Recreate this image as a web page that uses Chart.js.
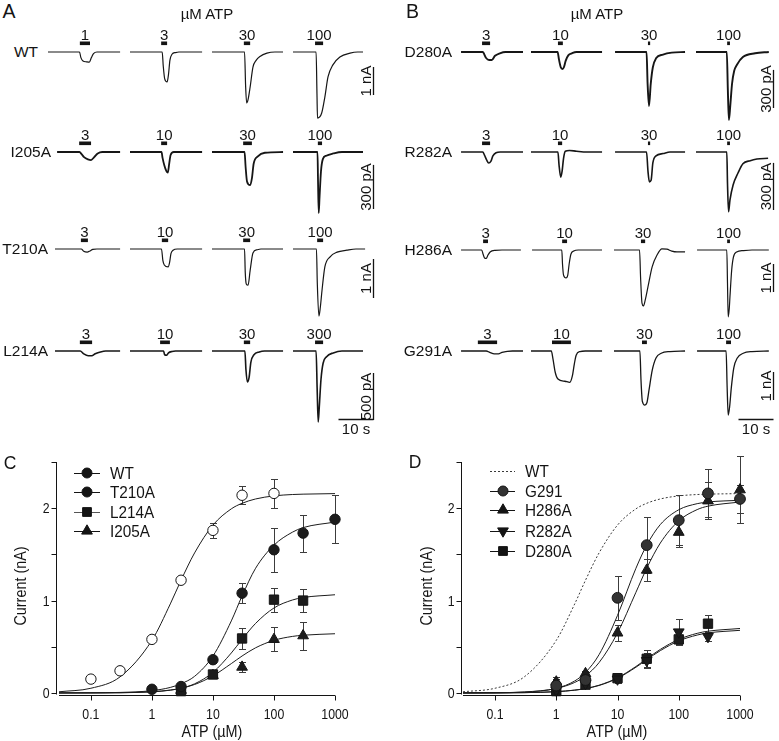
<!DOCTYPE html>
<html><head><meta charset="utf-8">
<script src="https://cdn.jsdelivr.net/npm/chart.js@4.4.1/dist/chart.umd.min.js"></script>
<style>
html,body{margin:0;padding:0;background:#fff;}
#wrap{position:relative;width:779px;height:741px;overflow:hidden;background:#fff;}
#wrap canvas{position:absolute;}
.t{position:absolute;font-family:"Liberation Sans",Arial,Helvetica,sans-serif;color:#141414;white-space:nowrap;line-height:1;}
</style></head><body><div id="wrap"></div>
<script>
// ================= DATA =================
// Panels A/B: current traces, [time (s), current (nA)]
const rowNamesA = ["WT","I205A","T210A","L214A"];
const rowNamesB = ["D280A","R282A","H286A","G291A"];
const concA = [["1","3","30","100"],["3","10","30","100"],["3","10","30","100"],["3","10","30","300"]];
const concB = [["3","10","30","100"],["3","10","30","100"],["3","10","30","100"],["3","10","30","100"]];

const traceWT = [
  [[0,0],[9.0,0],[9.4,-0.2],[10.0,-0.32],[11.0,-0.35],[11.8,-0.36],[12.4,-0.2],[13.0,-0.06],[14,0],[20.6,0]],
  [[0,0],[9.2,0],[9.5,-0.5],[9.9,-0.95],[10.6,-1.07],[11.0,-0.8],[11.4,-0.3],[12.0,-0.08],[13,-0.02],[14,0],[20.6,0]],
  [[0,0],[9.3,0],[9.6,-1.2],[9.9,-1.82],[10.3,-1.7],[10.9,-1.25],[11.7,-0.54],[12.6,-0.3],[13.7,-0.16],[15.7,-0.04],[18,0],[20.3,0]],
  [[0,0],[6.6,0],[6.85,-1.5],[7.0,-2.36],[8.2,-2.18],[9.1,-1.61],[10.0,-0.89],[11.4,-0.46],[13.4,-0.18],[16.3,-0.04],[18.5,0],[20.0,0]]
];
const traceI205A = [
  [[2.6,0],[9.0,0],[9.6,-0.015],[10.3,-0.035],[11.4,-0.05],[12.3,-0.055],[13.2,-0.035],[14.2,-0.01],[15.5,0],[20.6,0]],
  [[0,0],[9.0,0],[9.3,-0.04],[9.8,-0.09],[10.4,-0.13],[10.8,-0.14],[11.2,-0.08],[11.6,-0.02],[12.5,0],[20.6,0]],
  [[0,0],[9.3,0],[9.6,-0.1],[10.0,-0.2],[10.9,-0.225],[11.4,-0.18],[11.9,-0.08],[13.1,-0.03],[15.1,-0.005],[20.3,0]],
  [[0,0],[7.0,0],[7.15,-0.2],[7.35,-0.415],[7.6,-0.3],[8.0,-0.13],[8.5,-0.05],[9.5,-0.025],[11.5,-0.01],[14,0],[20.0,0]]
];
const traceT210A = [
  [[2,0],[9.5,0],[10.2,-0.06],[11.2,-0.08],[12.0,-0.05],[12.8,-0.01],[14,0],[20.6,0]],
  [[0,0],[9.0,0],[9.4,-0.3],[9.8,-0.41],[10.9,-0.46],[11.3,-0.35],[11.7,-0.12],[12.3,-0.03],[13.5,0],[20.6,0]],
  [[0,0],[9.3,0],[9.5,-0.6],[9.8,-0.9],[10.3,-0.93],[10.9,-0.55],[11.7,-0.1],[12.9,-0.02],[14,0],[20.3,0]],
  [[0,0],[6.7,0],[6.95,-0.9],[7.4,-1.72],[7.8,-1.5],[8.3,-1.05],[9.1,-0.46],[10.6,-0.2],[12.6,-0.08],[15.4,-0.03],[18,0],[20.6,0]]
];
const traceL214A = [
  [[2,0],[9.2,0],[10.2,-0.03],[11.5,-0.05],[12.5,-0.05],[13.5,-0.03],[15,-0.01],[16.5,0],[20.6,0]],
  [[0,0],[9.6,0],[9.9,-0.04],[10.5,-0.045],[11.0,-0.02],[12,-0.005],[13,0],[20.6,0]],
  [[0,0],[9.4,0],[9.7,-0.2],[10.1,-0.33],[10.6,-0.28],[11.1,-0.12],[12,-0.04],[13.5,-0.01],[15,0],[20.3,0]],
  [[0,0],[6.6,0],[6.9,-0.4],[7.2,-0.755],[7.5,-0.6],[8.0,-0.3],[8.6,-0.13],[9.6,-0.06],[11.5,-0.02],[14,0],[20.0,0]]
];
const traceD280A = [
  [[0.3,0],[6.5,0],[7.4,-0.045],[8.3,-0.063],[9.1,-0.063],[10.0,-0.03],[11.4,-0.01],[13,0],[18.0,0]],
  [[0,0],[7.6,0],[8.0,-0.06],[8.5,-0.12],[9.0,-0.134],[9.4,-0.12],[9.9,-0.07],[10.7,-0.025],[11.7,-0.01],[13,0],[20.3,0]],
  [[0.3,0],[9.3,0],[9.6,-0.25],[10.0,-0.425],[10.5,-0.25],[11.1,-0.12],[12,-0.05],[14,-0.02],[16.5,-0.005],[20.3,0]],
  [[0,0],[8.8,0],[9.1,-0.3],[9.4,-0.535],[9.8,-0.42],[10.3,-0.25],[10.9,-0.15],[11.7,-0.1],[13.4,-0.04],[16.9,-0.01],[20.8,0]]
];
const traceR282A = [
  [[0.3,0],[6.5,0],[7.0,-0.02],[7.6,-0.05],[8.2,-0.07],[8.8,-0.06],[9.4,-0.025],[10.3,-0.005],[11.5,0],[18,0]],
  [[0,0],[7.7,0],[8.0,-0.08],[8.5,-0.16],[8.9,-0.12],[9.3,-0.04],[9.8,0.005],[11,0.01],[13,0.005],[16,0],[20.3,0]],
  [[0.3,0],[9.3,0],[9.7,-0.12],[10.1,-0.19],[10.6,-0.18],[11.1,-0.07],[12,-0.025],[14,-0.01],[16,0],[20.3,0]],
  [[0,0],[8.8,0],[9.0,-0.2],[9.3,-0.38],[9.7,-0.306],[10.6,-0.21],[12.0,-0.134],[13.4,-0.075],[15.5,-0.055],[17.4,-0.045],[20.6,-0.04]]
];
const traceH286A = [
  [[0.3,0],[6.2,0],[6.6,-0.15],[7.1,-0.3],[7.5,-0.3],[8.0,-0.18],[8.6,-0.07],[10,-0.01],[12,0],[17.4,0]],
  [[0.3,0],[8.8,0],[9.0,-0.5],[9.3,-0.9],[10.0,-1.0],[10.5,-0.9],[10.9,-0.5],[11.4,-0.15],[12.2,-0.04],[13.5,0],[20.3,0]],
  [[0,0],[7.3,0],[7.6,-1.0],[8.0,-1.9],[8.4,-2.0],[8.9,-1.8],[9.7,-1.32],[10.9,-0.6],[12.3,-0.18],[13.7,0.04],[15.1,0.03],[16.5,-0.04],[18,-0.07],[20.3,-0.07]],
  [[0.3,0],[8.8,0],[9.0,-1.2],[9.2,-2.39],[9.5,-2.1],[9.7,-1.68],[10.2,-0.71],[10.7,-0.25],[11.6,-0.07],[13.5,-0.02],[16,0],[20.8,0]]
];
const traceG291A = [
  [[0.3,0],[7.5,0],[8.5,-0.05],[9.8,-0.1],[11,-0.1],[12,-0.05],[13.5,-0.01],[15,0],[18,0]],
  [[0,0],[5.8,0],[6.3,-0.3],[6.9,-0.75],[7.7,-1.0],[9.7,-1.08],[11.1,-1.12],[11.8,-0.9],[12.4,-0.45],[12.9,-0.15],[14,-0.02],[15.5,0],[20.3,0]],
  [[0,0],[7.4,0],[7.7,-1.0],[8.1,-1.8],[8.8,-1.93],[9.4,-1.85],[10.0,-1.4],[10.9,-0.7],[12.0,-0.25],[13.5,-0.08],[16,-0.02],[20.3,0]],
  [[0.3,0],[8.6,0],[8.9,-1.3],[9.2,-2.29],[9.6,-2.0],[10.1,-1.3],[10.8,-0.6],[11.8,-0.25],[13.5,-0.08],[16,-0.02],[20.8,0]]
];
// ATP application windows [start s, end s]
const appWT    = [[9.1,12.0],[8.9,10.6],[9.1,10.9],[6.3,8.6]];
const appI205A = [[8.9,12.3],[8.9,10.6],[8.9,11.4],[7.1,8.3]];
const appT210A = [[9.4,11.4],[9.1,10.9],[8.9,10.9],[6.9,8.6]];
const appL214A = [[9.1,12.6],[8.6,11.4],[9.1,10.9],[6.3,8.6]];
const appD280A = [[6.3,8.6],[7.7,9.1],[9.7,10.3],[8.9,9.7]];
const appR282A = [[6.3,8.6],[7.7,8.9],[9.7,10.3],[8.9,9.7]];
const appH286A = [[6.6,8.0],[8.9,10.3],[7.7,8.9],[8.9,9.7]];
const appG291A = [[5.1,10.6],[6.0,11.4],[8.0,9.4],[8.6,10.0]];
// scale bars (nA) and their labels
const scaleValA = [1,0.3,1,0.5];   const scaleTextA = ["1 nA","300 pA","1 nA","500 pA"];
const scaleValB = [0.3,0.3,1,1];   const scaleTextB = ["300 pA","300 pA","1 nA","1 nA"];
const timeBarSec = 10;             const timeBarText = "10 s";

// Panels C/D: dose-response, ATP (µM) vs current (nA)
const fitX = [0.03,0.1,0.3,1,2,3,5,10,20,30,50,100,200,300,1000];
const wtDose = [0.1,0.3,1,3,10,30,100];
const wtMean = [0.15,0.24,0.58,1.22,1.76,2.14,2.16];
const wtErr  = [0,0,0,0.03,0.08,0.1,0.16];
const wtFit  = [0.013,0.051,0.174,0.570,0.964,1.220,1.516,1.817,1.993,2.053,2.100,2.133,2.148,2.152,2.158];
const t210Dose = [1,3,10,30,100,300,1000];
const t210Mean = [0.04,0.07,0.36,1.08,1.55,1.73,1.88];
const t210Err  = [0.01,0.02,0.04,0.11,0.24,0.2,0.26];
const t210Fit  = [0.0005,0.002,0.006,0.025,0.06,0.1,0.18,0.40,0.78,1.05,1.35,1.60,1.74,1.79,1.85];
const l214Dose = [3,10,30,100,300];
const l214Mean = [0.02,0.2,0.59,1.01,1.0];
const l214Err  = [0.01,0.03,0.11,0.13,0.12];
const l214Fit  = [0.0001,0.0005,0.0023,0.012,0.030,0.052,0.099,0.223,0.433,0.58,0.753,0.92,1.006,1.033,1.063];
const i205Dose = [3,10,30,100,300];
const i205Mean = [0.03,0.19,0.28,0.58,0.62];
const i205Err  = [0.01,0.03,0.05,0.13,0.15];
const i205Fit  = [0.0002,0.0007,0.0029,0.0134,0.0315,0.0512,0.0916,0.185,0.318,0.40,0.489,0.570,0.612,0.625,0.641];
const g291Dose = [1,3,10,30,100,300,1000];
const g291Mean = [0.08,0.14,1.03,1.6,1.87,2.16,2.1];
const g291Err  = [0.07,0.04,0.24,0.3,0.27,0.26,0.15];
const g291Fit  = [0.0003,0.0019,0.009,0.050,0.130,0.222,0.415,0.84,1.350,1.6,1.823,1.983,2.049,2.067,2.086];
const h286Dose = [1,3,10,30,100,300,1000];
const h286Mean = [0.12,0.21,0.65,1.33,1.74,2.08,2.2];
const h286Err  = [0.05,0.03,0.09,0.12,0.16,0.2,0.36];
const h286Fit  = [0.0006,0.0026,0.0107,0.0488,0.114,0.185,0.329,0.65,1.090,1.35,1.623,1.863,1.985,2.022,2.067];
const r282Dose = [1,3,10,30,100,300];
const r282Mean = [0.03,0.1,0.15,0.35,0.66,0.61];
const r282Err  = [0.02,0.02,0.04,0.08,0.14,0.05];
const r282Fit  = [0.0002,0.001,0.0035,0.0142,0.0311,0.0487,0.0837,0.164,0.2866,0.37,0.4716,0.5798,0.6455,0.6685,0.698];
const d280Dose = [1,3,10,30,100,300];
const d280Mean = [0.02,0.09,0.16,0.37,0.58,0.75];
const d280Err  = [0.02,0.03,0.04,0.09,0.05,0.09];
const d280Fit  = [0.0002,0.001,0.0034,0.0138,0.0302,0.0473,0.0813,0.159,0.2785,0.36,0.458,0.5635,0.627,0.650,0.678];
const yTicks = [0,0.5,1,1.5,2,2.5];
const yTickLabels = [0,1,2];
const xTicks = [0.1,1,10,100,1000];

// ================= LAYOUT / DRAWING =================
const FONT = '"Liberation Sans", Arial, Helvetica, sans-serif';
const wrap = document.getElementById('wrap');
const INK = '#141414';
const PX_PER_S = 3.5;

function makeCanvas(left, top, w, h){
  const c = document.createElement('canvas');
  c.width = w; c.height = h;
  c.style.left = left+'px'; c.style.top = top+'px';
  c.style.width = w+'px'; c.style.height = h+'px';
  wrap.appendChild(c); return c;
}
function htmlText(text, x, y, size, align, sx){
  const d = document.createElement('div');
  d.className = 't'; d.textContent = text;
  d.style.left = x+'px'; d.style.top = y+'px'; d.style.fontSize = size+'px';
  const tx = align==='right' ? '-100%' : (align==='left' ? '0' : '-50%');
  d.style.transformOrigin = align==='right' ? 'right center' : (align==='left' ? 'left center' : 'center center');
  d.style.transform = 'translate('+tx+',-50%) scaleX('+(sx||1)+')';
  wrap.appendChild(d);
}
function sText(ctx, str, x, y, align, sx){
  ctx.save(); ctx.translate(x,y); ctx.scale(sx,1); ctx.textAlign = align; ctx.fillText(str,0,0); ctx.restore();
}

const tracePlugin = {
  id:'traceDeco',
  afterDraw(chart, args, o){
    const ctx = chart.ctx, x = chart.scales.x, y = chart.scales.y;
    const base = y.getPixelForValue(0);
    ctx.save();
    ctx.fillStyle = INK; ctx.strokeStyle = INK;
    const x1 = x.getPixelForValue(o.app[0]), x2 = x.getPixelForValue(o.app[1]);
    ctx.fillRect(x1, base-10.5, Math.max(2.2, x2-x1), 3.6);
    ctx.font = '15px '+FONT; ctx.textBaseline = 'alphabetic'; ctx.textAlign = 'center';
    ctx.fillText(o.conc, (x1+x2)/2, base-12.5);
    if (o.scaleVal){
      const bx = Math.round(chart.chartArea.right + o.barDx) + 0.5;
      const yb = base + o.barBottom;
      const len = y.getPixelForValue(-o.scaleVal) - y.getPixelForValue(0);
      ctx.lineWidth = 1.3;
      ctx.beginPath(); ctx.moveTo(bx, yb); ctx.lineTo(bx, yb-len); ctx.stroke();
      ctx.save(); ctx.translate(bx-3, yb-len/2); ctx.rotate(-Math.PI/2);
      ctx.textAlign = 'center'; ctx.fillText(o.scaleText, 0, 0); ctx.restore();
      if (o.timeVal){
        const tl = x.getPixelForValue(o.timeVal) - x.getPixelForValue(0);
        const ty = Math.round(base + o.timeY) + 0.5;
        ctx.beginPath(); ctx.moveTo(bx - tl, ty); ctx.lineTo(bx, ty); ctx.stroke();
        ctx.textAlign = 'center'; ctx.fillText(o.timeText, bx - tl/2, ty + 14);
      }
    }
    ctx.restore();
  }
};

function traceChart(x0, base, W, extraR, data, lw, ppn, deco){
  const padL = 10, above = 30, below = 100;
  const c = makeCanvas(x0-padL, base-above, W+padL+10+extraR, above+below);
  new Chart(c, {
    type:'scatter',
    data:{datasets:[{data:data.map(p=>({x:p[0], y:p[1]})), showLine:true, borderColor:'#161616',
      borderWidth:lw, pointRadius:0, cubicInterpolationMode:'monotone', clip:false}]},
    options:{responsive:false, animation:false, events:[], devicePixelRatio:1,
      layout:{padding:{left:padL, right:10+extraR, top:above-12, bottom:below-78}},
      plugins:{legend:{display:false}, tooltip:{enabled:false}, traceDeco:deco},
      scales:{x:{type:'linear', display:false, min:0, max:W/PX_PER_S},
              y:{type:'linear', display:false, min:-78/ppn, max:12/ppn}}},
    plugins:[tracePlugin]
  });
}

function tracePanel(P){
  P.rows.forEach((row, r)=>{
    htmlText(row.name, P.nameRight[r], P.base[r], 15.5, 'right');
    for (let k=0;k<4;k++){
      const last = k===3;
      const deco = {app:row.app[k], conc:row.conc[k]};
      if (last){
        Object.assign(deco, {scaleVal:P.scaleVal[r], scaleText:P.scaleText[r], barDx:P.barDx, barBottom:P.barBottom[r]});
        if (r===3) Object.assign(deco, {timeVal:timeBarSec, timeText:timeBarText, timeY:68});
      }
      traceChart(P.cols[k], P.base[r], P.width, last?16:0, row.trace[k], P.lw[r], P.ppn[r], deco);
    }
  });
}

tracePanel({
  cols:[48,130,212,293], width:72, base:[52,152,249,351], nameRight:[38,51,48,48],
  ppn:[28,147,39,94], lw:[1.2,1.8,1.2,1.6], barDx:8, barBottom:[43,57,49,69],
  scaleVal:scaleValA, scaleText:scaleTextA,
  rows:[
    {name:rowNamesA[0], trace:traceWT, app:appWT, conc:concA[0]},
    {name:rowNamesA[1], trace:traceI205A, app:appI205A, conc:concA[1]},
    {name:rowNamesA[2], trace:traceT210A, app:appT210A, conc:concA[2]},
    {name:rowNamesA[3], trace:traceL214A, app:appL214A, conc:concA[3]}
  ]
});
tracePanel({
  cols:[460,531,614,696], width:73, base:[52,152,250,351], nameRight:[452,452,452,452],
  ppn:[127,157,28,28], lw:[1.9,1.6,1.2,1.3], barDx:4, barBottom:[56,58,42,49],
  scaleVal:scaleValB, scaleText:scaleTextB,
  rows:[
    {name:rowNamesB[0], trace:traceD280A, app:appD280A, conc:concB[0]},
    {name:rowNamesB[1], trace:traceR282A, app:appR282A, conc:concB[1]},
    {name:rowNamesB[2], trace:traceH286A, app:appH286A, conc:concB[2]},
    {name:rowNamesB[3], trace:traceG291A, app:appG291A, conc:concB[3]}
  ]
});

// panel letters and titles
htmlText("A", 9, 11.5, 19.5, 'center');
htmlText("B", 412.5, 11.5, 19.5, 'center');
htmlText("µM ATP", 207, 12.5, 15, 'center');
htmlText("µM ATP", 597, 12.5, 15, 'center');
htmlText("C", 9.5, 461.5, 19, 'center', 0.92);
htmlText("D", 414.5, 460.5, 19, 'center', 0.92);

// ---------- dose-response ----------
function marker(ctx, style, x, y, r, fill){
  ctx.beginPath();
  if (style==='circle'){ ctx.arc(x,y,r,0,Math.PI*2); }
  else if (style==='rect'){ const s=Math.SQRT1_2*r; ctx.rect(x-s,y-s,2*s,2*s); }
  else { const rot = style==='triangleDown'?Math.PI:0; let a=rot;
    ctx.moveTo(x+Math.sin(a)*r, y-Math.cos(a)*r); a+=2*Math.PI/3;
    ctx.lineTo(x+Math.sin(a)*r, y-Math.cos(a)*r); a+=2*Math.PI/3;
    ctx.lineTo(x+Math.sin(a)*r, y-Math.cos(a)*r); ctx.closePath(); }
  ctx.fillStyle = fill; ctx.fill(); ctx.lineWidth=1; ctx.strokeStyle=INK; ctx.stroke();
}

const dosePlugin = {
  id:'doseDeco',
  beforeDatasetsDraw(chart, args, o){
    const ctx = chart.ctx, x = chart.scales.x, y = chart.scales.y;
    ctx.save(); ctx.strokeStyle = '#3c3c3c'; ctx.lineWidth = 1;
    o.errors.forEach(s=>{
      s.dose.forEach((d,i)=>{
        const e = s.err[i]; if (!e) return;
        const px = Math.round(x.getPixelForValue(d))+0.5;
        const y1 = Math.round(y.getPixelForValue(s.mean[i]+e))+0.5;
        const y2 = Math.round(y.getPixelForValue(Math.max(s.mean[i]-e, y.min)))+0.5;
        ctx.beginPath();
        ctx.moveTo(px,y1); ctx.lineTo(px,y2);
        ctx.moveTo(px-3.5,y1); ctx.lineTo(px+3.5,y1);
        ctx.moveTo(px-3.5,y2); ctx.lineTo(px+3.5,y2);
        ctx.stroke();
      });
    });
    ctx.restore();
  },
  afterDraw(chart, args, o){
    const ctx = chart.ctx, x = chart.scales.x, y = chart.scales.y, a = chart.chartArea;
    ctx.save(); ctx.strokeStyle = INK; ctx.fillStyle = INK; ctx.lineWidth = 1;
    const ax = a.left - o.gap + 0.5;
    const y0 = y.getPixelForValue(0);
    ctx.beginPath(); ctx.moveTo(ax, Math.round(y.getPixelForValue(2.5))); ctx.lineTo(ax, Math.round(y0)+1.5); ctx.stroke();
    const bx = Math.round(a.bottom)+0.5;
    ctx.beginPath(); ctx.moveTo(a.left, bx); ctx.lineTo(a.right, bx); ctx.stroke();
    ctx.beginPath();
    yTicks.forEach(v=>{ const py = Math.round(y.getPixelForValue(v))+0.5; ctx.moveTo(ax-5, py); ctx.lineTo(ax, py); });
    xTicks.forEach(v=>{ const px = Math.round(x.getPixelForValue(v))+0.5; ctx.moveTo(px, bx); ctx.lineTo(px, bx+5); });
    ctx.stroke();
    ctx.font = '14px '+FONT; ctx.textBaseline = 'alphabetic';
    yTickLabels.forEach(v=> sText(ctx, String(v), ax-7, y.getPixelForValue(v)+5, 'right', 0.88));
    xTicks.forEach(v=> sText(ctx, String(v), x.getPixelForValue(v), bx+23, 'center', 0.88));
    ctx.font = '16px '+FONT;
    sText(ctx, 'ATP (µM)', o.xTitle[0], o.xTitle[1], 'center', 0.9);
    ctx.save(); ctx.translate(o.yTitle[0], o.yTitle[1]); ctx.rotate(-Math.PI/2); ctx.scale(0.9,1);
    ctx.textAlign='center'; ctx.fillText('Current (nA)', 0, 0); ctx.restore();
    // legend
    ctx.font = '17px '+FONT;
    o.legend.forEach((it, i)=>{
      const ly = o.legRows[i];
      ctx.save(); ctx.strokeStyle = it.line || INK; ctx.lineWidth = 1;
      if (it.dash) ctx.setLineDash([2,2]);
      ctx.beginPath(); ctx.moveTo(o.legX[0], Math.round(ly)+0.5); ctx.lineTo(o.legX[1], Math.round(ly)+0.5); ctx.stroke();
      ctx.restore();
      if (it.style) marker(ctx, it.style, o.legX[2], ly, it.style==='circle'?5:6.2, it.fill||'#1c1c1c');
      ctx.fillStyle = INK;
      sText(ctx, it.text, o.legX[3], ly+6, 'left', 0.9);
    });
    ctx.restore();
  }
};

function doseChart(left, width, padL, padR, curves, series, deco){
  const c = makeCanvas(left, 440, width, 301);
  const ds = [];
  series.forEach(s=> ds.push({data:s.dose.map((d,i)=>({x:d, y:s.mean[i]})), showLine:false,
    pointStyle:s.style, pointRadius:s.r, pointRotation:s.rot||0, pointBackgroundColor:s.fill,
    pointBorderColor:INK, pointBorderWidth:1, order:1, clip:false}));
  curves.forEach(cv=> ds.push({data:fitX.map((xv,i)=>({x:xv, y:cv.y[i]})), showLine:true, pointRadius:0,
    borderColor:cv.color||'#1c1c1c', borderWidth:1, borderDash:cv.dash||[], cubicInterpolationMode:'monotone', order:2}));
  new Chart(c, {
    type:'scatter', data:{datasets:ds},
    options:{responsive:false, animation:false, events:[], devicePixelRatio:1,
      layout:{padding:{left:padL, right:padR, top:22, bottom:46}},
      plugins:{legend:{display:false}, tooltip:{enabled:false}, doseDeco:deco},
      scales:{x:{type:'logarithmic', display:false, min:0.03, max:1000},
              y:{type:'linear', display:false, min:-0.022, max:2.5}}},
    plugins:[dosePlugin]
  });
}

doseChart(0, 390, 59, 55,
  [{y:wtFit},{y:t210Fit},{y:l214Fit},{y:i205Fit}],
  [{dose:wtDose, mean:wtMean, style:'circle', r:5.2, fill:'#ffffff'},
   {dose:t210Dose, mean:t210Mean, style:'circle', r:5.2, fill:'#1c1c1c'},
   {dose:l214Dose, mean:l214Mean, style:'rect', r:6.6, fill:'#1c1c1c'},
   {dose:i205Dose, mean:i205Mean, style:'triangle', r:6.2, fill:'#1c1c1c'}],
  {gap:3, xTitle:[212,297], yTitle:[26,146],
   errors:[{dose:wtDose,mean:wtMean,err:wtErr},{dose:t210Dose,mean:t210Mean,err:t210Err},
           {dose:l214Dose,mean:l214Mean,err:l214Err},{dose:i205Dose,mean:i205Mean,err:i205Err}],
   legX:[74,100,87,110], legRows:[33,52,72,91],
   legend:[{text:'WT',style:'circle'},{text:'T210A',style:'circle'},{text:'L214A',style:'rect',line:'#555'},{text:'I205A',style:'triangle'}]});

doseChart(390, 389, 73, 39,
  [{y:wtFit, dash:[2,2], color:'#3a3a3a'},{y:g291Fit},{y:h286Fit},{y:r282Fit},{y:d280Fit}],
  [{dose:g291Dose, mean:g291Mean, style:'circle', r:5.4, fill:'#333333'},
   {dose:h286Dose, mean:h286Mean, style:'triangle', r:6.2, fill:'#1c1c1c'},
   {dose:r282Dose, mean:r282Mean, style:'triangle', rot:180, r:6.2, fill:'#1c1c1c'},
   {dose:d280Dose, mean:d280Mean, style:'rect', r:6.6, fill:'#1c1c1c'}],
  {gap:2, xTitle:[227,297], yTitle:[42,146],
   errors:[{dose:g291Dose,mean:g291Mean,err:g291Err},{dose:h286Dose,mean:h286Mean,err:h286Err},
           {dose:r282Dose,mean:r282Mean,err:r282Err},{dose:d280Dose,mean:d280Mean,err:d280Err}],
   legX:[100,125,113,135], legRows:[31,51,70,91,111],
   legend:[{text:'WT',dash:true,line:'#3a3a3a'},{text:'G291',style:'circle',fill:'#333333'},{text:'H286A',style:'triangle'},
           {text:'R282A',style:'triangleDown'},{text:'D280A',style:'rect'}]});
</script></body></html>
